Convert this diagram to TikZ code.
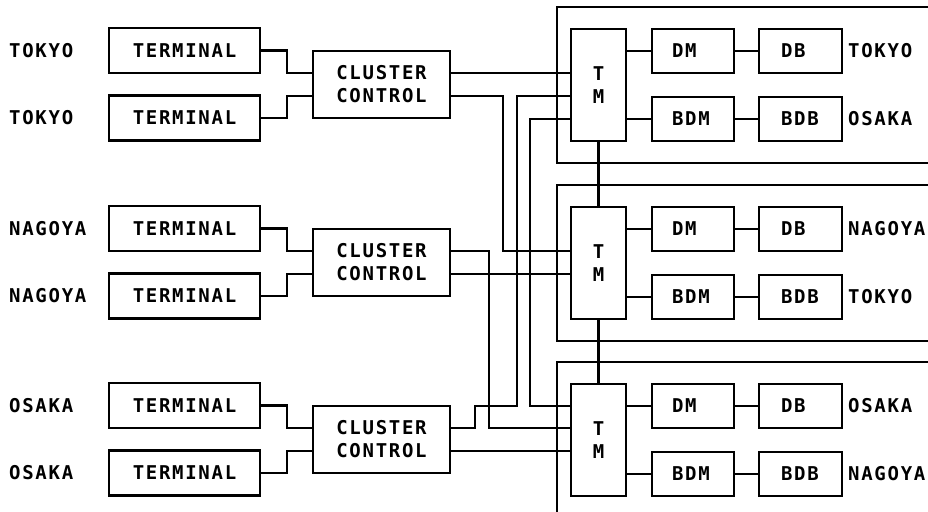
\documentclass[tikz,border=0pt]{standalone}
\usepackage{fontspec}
\newfontfamily\diagfont{DejaVu Sans Mono}[LetterSpace=9]
\newcommand\diagtext{\diagfont\bfseries\fontsize{19}{23}\selectfont}
\begin{document}
\begin{tikzpicture}[x=1pt,y=-1pt,
  wire/.style={line width=2.4pt},
  box/.style={draw, line width=2.4pt, inner sep=0pt, font=\diagtext, align=center},
  term/.style={box, minimum width=151pt, minimum height=45pt},
  cluster/.style={box, minimum width=137pt, minimum height=67pt},
  tmbox/.style={box, minimum width=55pt, minimum height=112pt},
  dmbox/.style={box, minimum height=44pt, text width=42pt, inner xsep=20pt, align=left},
  dbbox/.style={box, minimum height=44pt, text width=39pt, inner xsep=22pt, align=left},
  place/.style={anchor=west, inner sep=0pt, font=\diagtext}]
\useasboundingbox (0,0) rectangle (928,511);
\clip (0,0) rectangle (928,511);

% three sites: terminals, cluster control, transaction manager and databases
\foreach \i/\off/\lname/\rtop/\rbot in {1/0/TOKYO/TOKYO/OSAKA, 2/178/NAGOYA/NAGOYA/TOKYO, 3/355/OSAKA/OSAKA/NAGOYA} {
  \coordinate (la\i) at (287, 73+\off);
  \coordinate (lb\i) at (287, 96+\off);
  \coordinate (rowd\i) at (652, 51+\off);
  \coordinate (rowb\i) at (652, 119+\off);
  \node[place] (pa\i) at (9, 50.5+\off) {\lname};
  \node[place] (pb\i) at (9, 118+\off) {\lname};
  \node[term] (ta\i) at (184.5, 50.5+\off) {TERMINAL};
  \node[term] (tb\i) at (184.5, 118+\off) {TERMINAL};
  \node[cluster] (cc\i) at (381.5, 84.5+\off) {CLUSTER\\CONTROL};
  \node[tmbox] (tm\i) at (598.5, 85+\off) {T\\M};
  \node[dmbox] (dm\i) at (693, 51+\off) {DM};
  \node[dbbox] (db\i) at (800.5, 51+\off) {DB};
  \node[dmbox] (bdm\i) at (693, 119+\off) {BDM};
  \node[dbbox] (bdb\i) at (800.5, 119+\off) {BDB};
  \node[place] (ra\i) at (848, 51+\off) {\rtop};
  \node[place] (rb\i) at (848, 119+\off) {\rbot};
  % site frame, open to the right
  \draw[wire] (940, 7+\off) -| (557, 163+\off) -- (940, 163+\off);
  % terminals to cluster control
  \draw[wire] (ta\i.east) -| (la\i) -- (cc\i.west |- la\i);
  \draw[wire] (tb\i.east) -| (lb\i) -- (cc\i.west |- lb\i);
  % transaction manager to data managers and databases
  \draw[wire] (tm\i.east |- rowd\i) -- (dm\i.west);
  \draw[wire] (dm\i) -- (db\i);
  \draw[wire] (tm\i.east |- rowb\i) -- (bdm\i.west);
  \draw[wire] (bdm\i) -- (bdb\i);
}

% links between transaction managers
\draw[wire] (tm1) -- (tm2);
\draw[wire] (tm2) -- (tm3);

% routing columns
\coordinate (xa) at (503,0);
\coordinate (xb) at (489,0);
\coordinate (xc) at (475,0);
\coordinate (xd) at (517,0);
\coordinate (xe) at (530,0);

\draw[wire] (cc1.east |- la1) -- (tm1.west |- la1);
\draw[wire] (cc1.east |- lb1) -| (xa |- la2) -- (tm2.west |- la2);
\draw[wire] (cc2.east |- lb2) -- (tm2.west |- lb2);
\draw[wire] (cc2.east |- la2) -| (xb |- la3) -- (tm3.west |- la3);
\draw[wire] (cc3.east |- la3) -| (xc |- rowd3) -| (xd |- lb1) -- (tm1.west |- lb1);
\draw[wire] (tm1.west |- rowb1) -| (xe |- rowd3) -- (tm3.west |- rowd3);
\draw[wire] (cc3.east |- lb3) -- (tm3.west |- lb3);
\end{tikzpicture}
\end{document}
